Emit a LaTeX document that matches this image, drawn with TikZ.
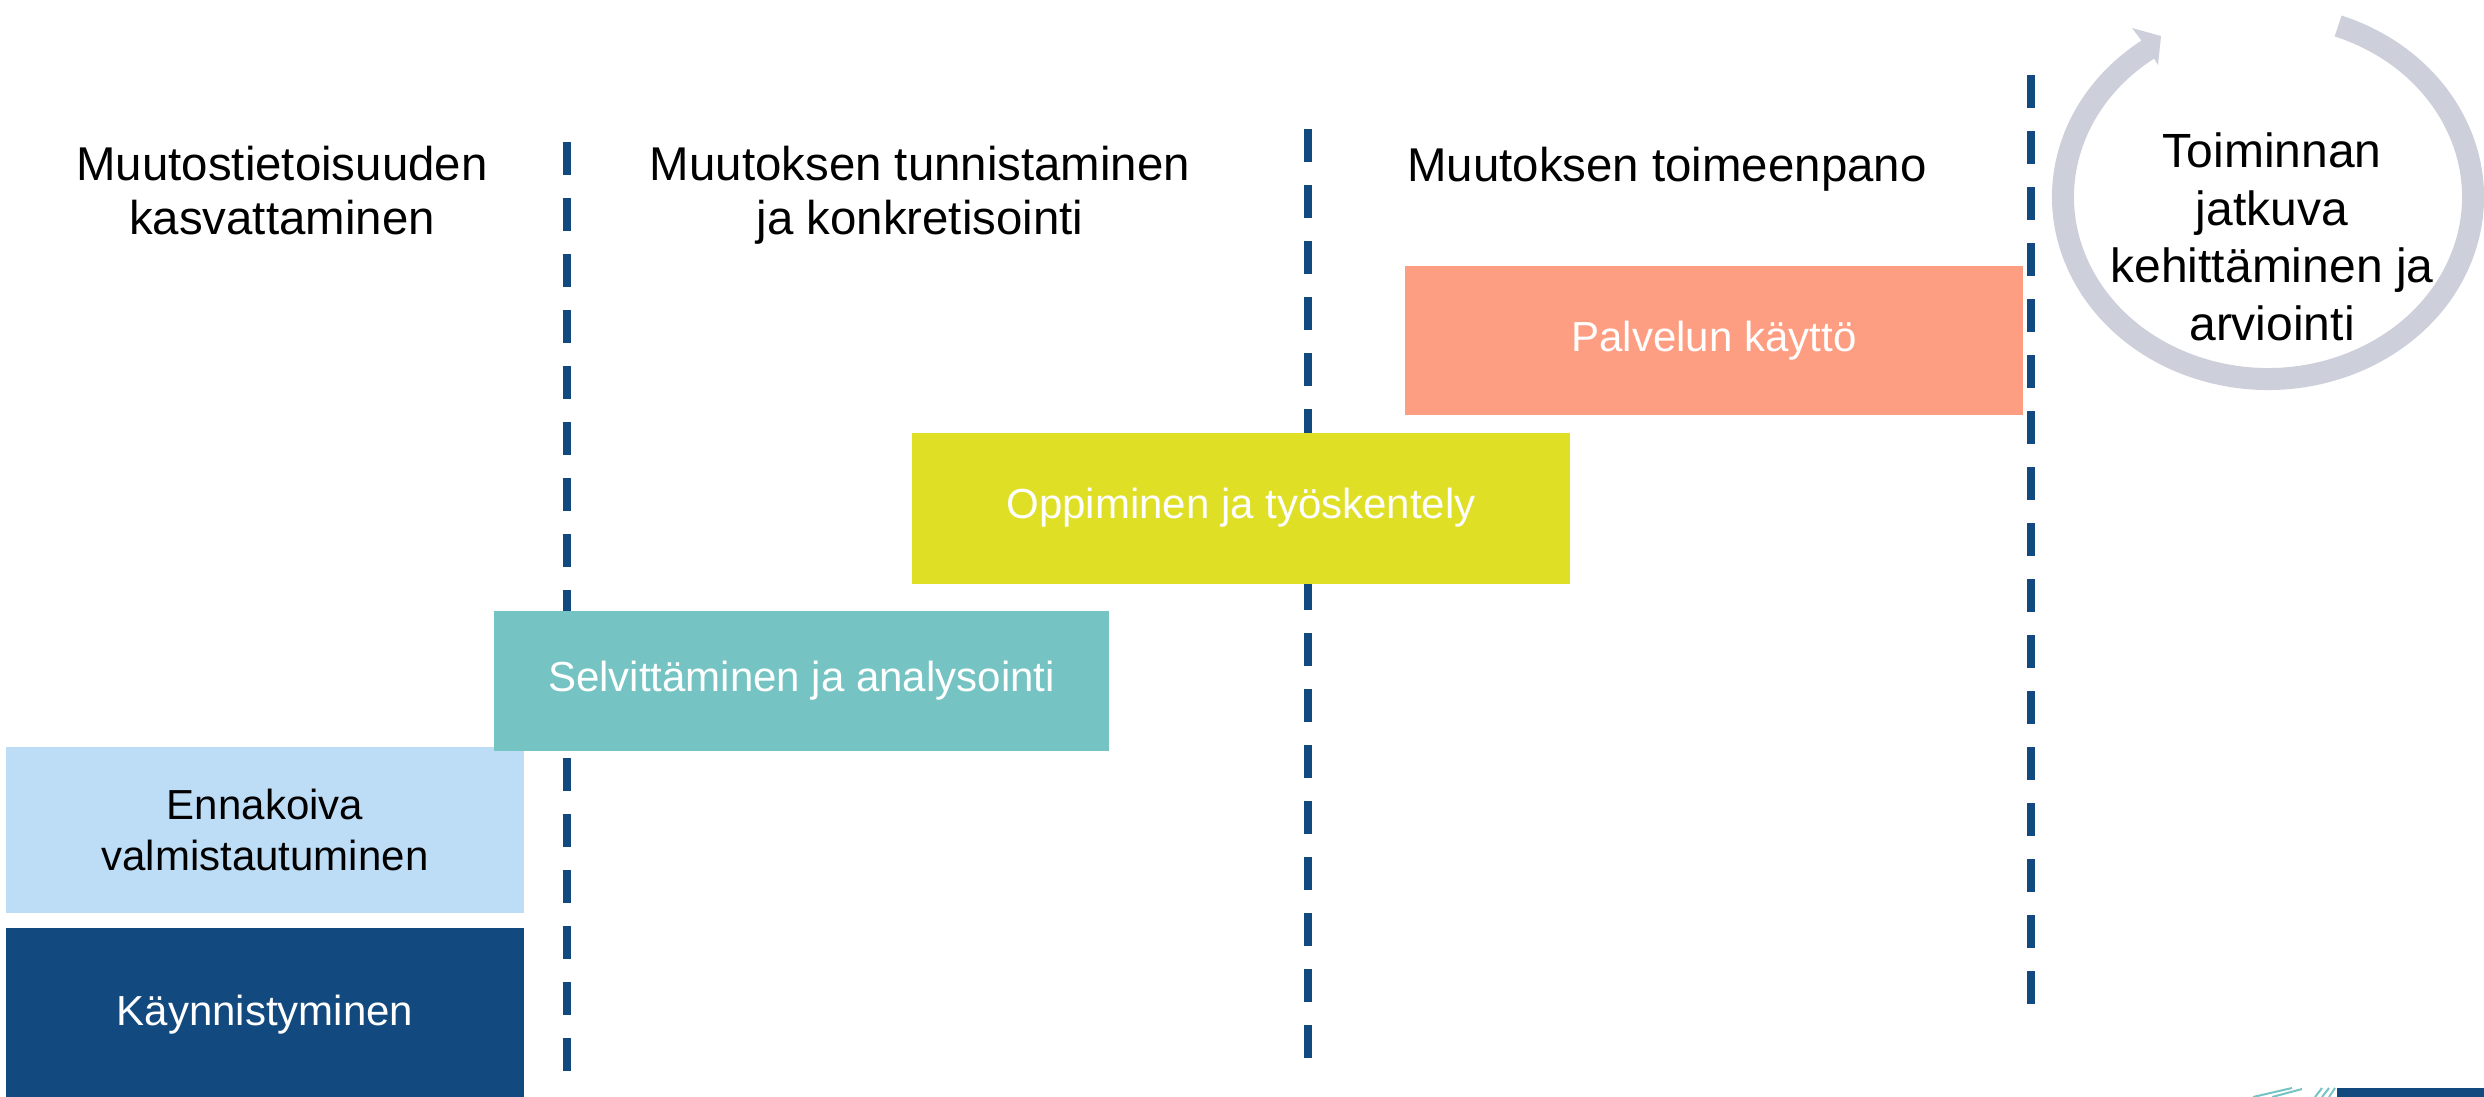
\documentclass[tikz,border=0pt]{standalone}
\usepackage{fontspec}
\setmainfont{Liberation Sans}
\definecolor{dblue}{HTML}{124A80}
\definecolor{lblue}{HTML}{BDDCF6}
\definecolor{teal2}{HTML}{75C4C3}
\definecolor{yell}{HTML}{DFDF26}
\definecolor{salmon}{HTML}{FD9E82}
\definecolor{ringgray}{HTML}{CDD0DA}
\tikzset{
  divider/.style={dblue, line width=4pt, dash pattern=on 16.5pt off 11.5pt},
  phase/.style={draw=none, inner sep=0pt, align=center, font=\fontsize{21pt}{25.8pt}\selectfont, text=white},
  header/.style={inner sep=0pt, align=center, anchor=base, font=\fontsize{23.7pt}{27pt}\selectfont},
  ring/.style={ringgray, line width=11pt},
}
\begin{document}
\begin{tikzpicture}[x=0.5pt,y=-0.5pt]
\useasboundingbox (0,0) rectangle (2484,1097);
\clip (0,0) rectangle (2484,1097);

% dividers
\coordinate (d1t) at (567,142);  \coordinate (d1b) at (567,1075);
\coordinate (d2t) at (1308,129); \coordinate (d2b) at (1308,1062);
\coordinate (d3t) at (2031,75);  \coordinate (d3b) at (2031,1008);
\draw[divider] (d1t) -- (d1b);
\draw[divider] (d2t) -- (d2b);
\draw[divider] (d3t) -- (d3b);

% phase boxes
\node[phase, fill=dblue, minimum width=259pt, minimum height=87pt] (kay) at (265,1015) {Käynnistyminen};
\node[phase, fill=lblue, text=black, minimum width=259pt, minimum height=83pt] (enn) at (265,830) {Ennakoiva\\valmistautuminen};
\node[phase, fill=teal2, minimum width=307.5pt, minimum height=70pt] (sel) at (801.5,681) {Selvittäminen ja analysointi};
\node[phase, fill=yell, minimum width=329pt, minimum height=75.5pt] (opp) at (1241,508) {Oppiminen ja työskentely};
\node[phase, fill=salmon, minimum width=309pt, minimum height=74.5pt] (pal) at (1714,340.5) {Palvelun käyttö};

% headers (anchor=base is the baseline of the last line)
\node[header] (h1) at (282,234) {Muutostietoisuuden\\kasvattaminen};
\node[header] (h2) at (920,234) {Muutoksen tunnistaminen\\ja konkretisointi};
\node[header] (h3) at (1667,181) {Muutoksen toimeenpano};

% circular arrow
\draw[ring] (2268,197) ++(-70:205 and 182) arc[start angle=-70, end angle=235, x radius=205, y radius=182];
\fill[ringgray] (2132,28) -- (2161,36) -- (2158,65) -- (2150,52) -- cycle;
\node[header, font=\fontsize{24pt}{28.7pt}\selectfont] (circ) at (2272,340) {Toiminnan\\jatkuva\\kehittäminen ja\\arviointi};

% corner fragment
\fill[dblue] (2337,1088) rectangle (2484,1097);
\draw[teal2, line width=1pt] (2253,1097) -- (2292,1088);
\draw[teal2, line width=1pt] (2272,1097) -- (2302,1089);
\draw[teal2, line width=1pt] (2315,1097) -- (2322,1088);
\draw[teal2, line width=1pt] (2322,1097) -- (2329,1088);
\draw[teal2, line width=1pt] (2329,1097) -- (2335,1088);
\end{tikzpicture}
\end{document}
